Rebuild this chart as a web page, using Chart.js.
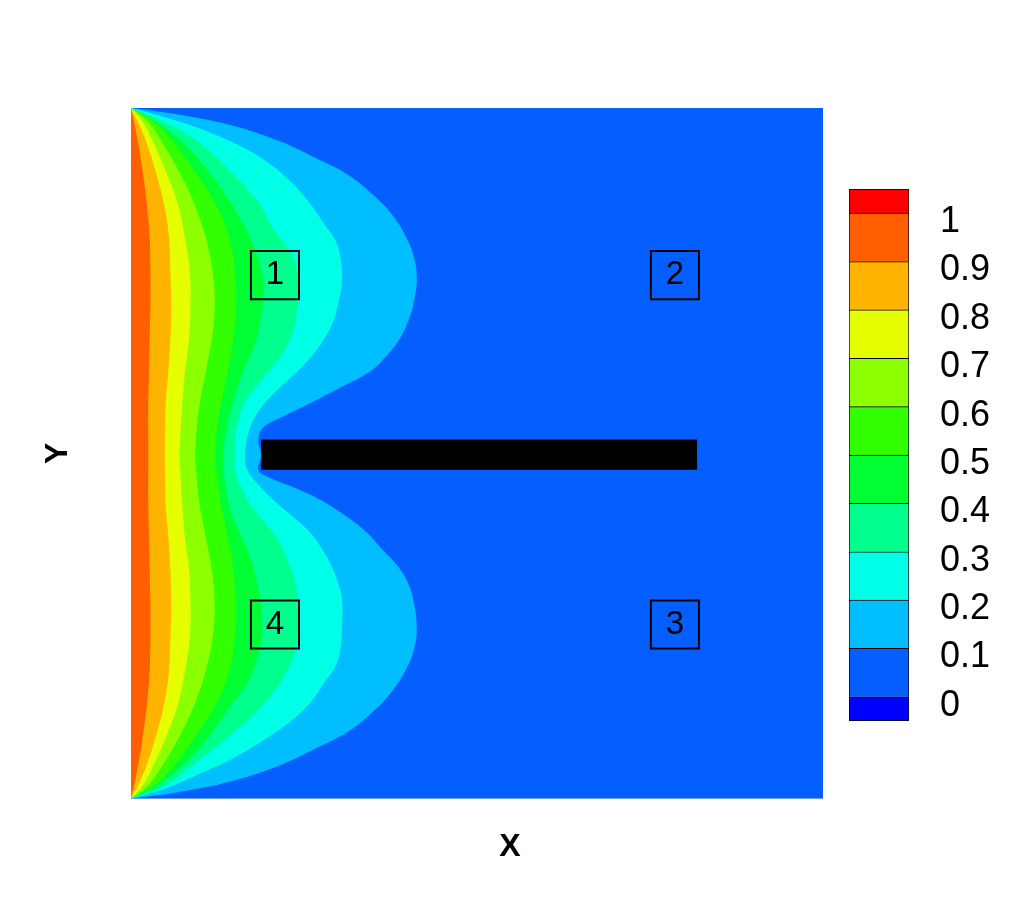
<!DOCTYPE html>
<html>
<head>
<meta charset="utf-8">
<script src="https://cdn.jsdelivr.net/npm/chart.js"></script>
<style>
  body { margin: 0; background: #fff; }
  #wrap { position: relative; width: 1012px; height: 900px; }
  #myChart { position: absolute; left: 0; top: 0; }
  #colorBar { position: absolute; left: 830px; top: 150px; }
</style>
</head>
<body>
<div id="wrap">
  <canvas id="myChart" width="1012" height="900"></canvas>
  <canvas id="colorBar" width="182" height="620"></canvas>
</div>
<script>
// colour bands, bottom to top
const levelEdges = [-0.05, 0, 0.1, 0.2, 0.3, 0.4, 0.5, 0.6, 0.7, 0.8, 0.9, 1.0, 1.05];
const levelColors = ['#0000ff', '#055eff', '#00beff', '#00ffe6', '#00ff8c', '#00ff32',
  '#32ff00', '#8cff00', '#e6ff00', '#ffb400', '#ff5f00', '#ff0000'];
const tickValues = [0, 0.1, 0.2, 0.3, 0.4, 0.5, 0.6, 0.7, 0.8, 0.9, 1];
const tickLabels = ['0', '0.1', '0.2', '0.3', '0.4', '0.5', '0.6', '0.7', '0.8', '0.9', '1'];

// contour lines (x right from the hot wall, y up)
const x01 = [0, 0.072, 0.145, 0.217, 0.264, 0.314, 0.350, 0.377, 0.396, 0.408, 0.413, 0.408, 0.400, 0.389, 0.371,
  0.345, 0.302, 0.254, 0.215, 0.191, 0.184, 0.188, 0.184, 0.197, 0.244, 0.273, 0.312, 0.341, 0.364, 0.386,
  0.400, 0.408, 0.413, 0.408, 0.396, 0.377, 0.350, 0.314, 0.264, 0.217, 0.145, 0.072, 0];
const y01 = [1, 0.990, 0.975, 0.951, 0.929, 0.903, 0.874, 0.846, 0.816, 0.787, 0.754, 0.715, 0.690, 0.667, 0.643,
  0.618, 0.595, 0.570, 0.551, 0.537, 0.520, 0.498, 0.476, 0.466, 0.447, 0.433, 0.408, 0.385, 0.360, 0.336,
  0.313, 0.288, 0.246, 0.213, 0.184, 0.155, 0.126, 0.097, 0.071, 0.049, 0.025, 0.010, 0];

const x02 = [0, 0.048, 0.097, 0.145, 0.192, 0.231, 0.260, 0.280, 0.295, 0.302, 0.305, 0.299, 0.292, 0.280, 0.263,
  0.240, 0.215, 0.191, 0.176, 0.168, 0.165, 0.168, 0.182, 0.205, 0.234, 0.259, 0.277, 0.290, 0.299, 0.305,
  0.305, 0.302, 0.295, 0.280, 0.260, 0.231, 0.192, 0.145, 0.097, 0.048, 0];
const y02 = [1, 0.987, 0.971, 0.951, 0.925, 0.893, 0.860, 0.831, 0.809, 0.787, 0.751, 0.715, 0.690, 0.667, 0.643,
  0.618, 0.595, 0.570, 0.546, 0.522, 0.496, 0.476, 0.457, 0.433, 0.408, 0.385, 0.360, 0.336, 0.313, 0.288,
  0.249, 0.213, 0.191, 0.169, 0.140, 0.112, 0.085, 0.057, 0.035, 0.014, 0];

const x03 = [0, 0.048, 0.097, 0.145, 0.184, 0.202, 0.215, 0.233, 0.240, 0.241, 0.237, 0.230, 0.218, 0.198, 0.179,
  0.162, 0.155, 0.150, 0.150, 0.150, 0.168, 0.186, 0.205, 0.220, 0.237, 0.241, 0.237, 0.220, 0.202, 0.180,
  0.145, 0.097, 0.048, 0];
const y03 = [1, 0.980, 0.951, 0.907, 0.863, 0.831, 0.812, 0.787, 0.763, 0.725, 0.690, 0.667, 0.643, 0.618, 0.595,
  0.570, 0.546, 0.522, 0.496, 0.476, 0.433, 0.408, 0.385, 0.360, 0.313, 0.263, 0.216, 0.175, 0.150, 0.125,
  0.093, 0.055, 0.018, 0];

const x04 = [0, 0.048, 0.097, 0.146, 0.172, 0.189, 0.191, 0.186, 0.182, 0.162, 0.146, 0.136, 0.133, 0.136, 0.147,
  0.168, 0.182, 0.189, 0.186, 0.168, 0.146, 0.097, 0.048, 0];
const y04 = [1, 0.972, 0.927, 0.860, 0.812, 0.763, 0.725, 0.690, 0.667, 0.618, 0.570, 0.522, 0.496, 0.457, 0.408,
  0.360, 0.313, 0.263, 0.216, 0.168, 0.137, 0.071, 0.026, 0];

// the inner lines share one set of rows
const yInner = [1, 0.980, 0.957, 0.907, 0.860, 0.812, 0.763, 0.715, 0.667, 0.618, 0.570, 0.522, 0.496, 0.476, 0.427,
  0.379, 0.330, 0.282, 0.234, 0.185, 0.137, 0.090, 0.041, 0.019, 0];
const x05 = [0, 0.034, 0.056, 0.093, 0.123, 0.142, 0.150, 0.152, 0.148, 0.140, 0.130, 0.123, 0.122, 0.123, 0.130,
  0.140, 0.148, 0.152, 0.150, 0.142, 0.123, 0.093, 0.056, 0.034, 0];
const x06 = [0, 0.025, 0.041, 0.070, 0.092, 0.108, 0.118, 0.121, 0.117, 0.108, 0.099, 0.094, 0.093, 0.094, 0.099,
  0.108, 0.117, 0.121, 0.118, 0.108, 0.092, 0.070, 0.041, 0.025, 0];
const x07 = [0, 0.017, 0.029, 0.051, 0.068, 0.078, 0.085, 0.086, 0.084, 0.078, 0.074, 0.071, 0.070, 0.071, 0.074,
  0.078, 0.084, 0.086, 0.085, 0.078, 0.068, 0.051, 0.029, 0.017, 0];
const x08 = [0, 0.010, 0.020, 0.036, 0.048, 0.055, 0.057, 0.058, 0.057, 0.054, 0.050, 0.049, 0.049, 0.049, 0.050,
  0.054, 0.057, 0.058, 0.057, 0.055, 0.048, 0.036, 0.020, 0.010, 0];

const x09 = [0, 0.009, 0.017, 0.023, 0.027, 0.028, 0.028, 0.027, 0.026, 0.025, 0.025, 0.025, 0.025, 0.025, 0.026,
  0.027, 0.028, 0.028, 0.027, 0.023, 0.017, 0.009, 0];
const y09 = [1, 0.957, 0.907, 0.860, 0.812, 0.763, 0.715, 0.667, 0.618, 0.570, 0.522, 0.496, 0.476, 0.427, 0.379,
  0.330, 0.282, 0.234, 0.185, 0.137, 0.090, 0.041, 0];

// the plate
const barX = [0.188, 0.818, 0.818, 0.188];
const barY = [0.476, 0.476, 0.520, 0.520];

// probe boxes
const probeX = [0.208, 0.786, 0.786, 0.208];
const probeY = [0.758, 0.758, 0.252, 0.252];
const probeLabels = ['1', '2', '3', '4'];

function toPoints(xs, ys) {
  return xs.map((x, i) => ({x: x, y: ys[i]}));
}

function contourSet(xs, ys, color) {
  return {
    data: toPoints(xs, ys),
    backgroundColor: color,
    borderWidth: 0,
    pointRadius: 0,
    tension: 0.4,
    fill: 'shape'
  };
}

const plotBackground = {
  id: 'plotBackground',
  beforeDraw(chart) {
    const {ctx, chartArea} = chart;
    ctx.save();
    ctx.fillStyle = levelColors[1];
    ctx.fillRect(chartArea.left, chartArea.top, chartArea.right - chartArea.left, chartArea.bottom - chartArea.top);
    ctx.restore();
  }
};

const probeText = {
  id: 'probeText',
  afterDatasetsDraw(chart) {
    const meta = chart.getDatasetMeta(0);
    const ctx = chart.ctx;
    ctx.save();
    ctx.font = '33px "Liberation Sans", Arial, sans-serif';
    ctx.fillStyle = '#000';
    ctx.textAlign = 'center';
    ctx.textBaseline = 'middle';
    meta.data.forEach((pt, i) => ctx.fillText(probeLabels[i], pt.x, pt.y));
    ctx.restore();
  }
};

const titleFont = {family: 'Liberation Sans', size: 32, weight: 'bold'};

new Chart(document.getElementById('myChart'), {
  type: 'line',
  data: {
    datasets: [
      {
        data: toPoints(probeX, probeY),
        showLine: false,
        pointStyle: 'rect',
        pointRadius: 34,
        pointBorderWidth: 2,
        pointBorderColor: '#000',
        pointBackgroundColor: 'rgba(0,0,0,0)'
      },
      {
        data: toPoints(barX, barY),
        backgroundColor: '#000',
        borderWidth: 0,
        pointRadius: 0,
        tension: 0,
        fill: 'shape'
      },
      contourSet(x09, y09, levelColors[10]),
      contourSet(x08, yInner, levelColors[9]),
      contourSet(x07, yInner, levelColors[8]),
      contourSet(x06, yInner, levelColors[7]),
      contourSet(x05, yInner, levelColors[6]),
      contourSet(x04, y04, levelColors[5]),
      contourSet(x03, y03, levelColors[4]),
      contourSet(x02, y02, levelColors[3]),
      contourSet(x01, y01, levelColors[2])
    ]
  },
  options: {
    responsive: false,
    animation: false,
    events: [],
    layout: {
      padding: {left: 8, top: 108, right: 0, bottom: 0}
    },
    plugins: {
      legend: {display: false},
      tooltip: {enabled: false},
      title: {
        display: true,
        text: 'X',
        position: 'bottom',
        color: '#000',
        font: titleFont,
        padding: {top: 29, bottom: 34}
      }
    },
    scales: {
      x: {type: 'linear', min: 0, max: 1, display: false},
      y: {
        type: 'linear',
        min: 0,
        max: 1,
        grid: {display: false},
        border: {display: false},
        ticks: {display: false},
        title: {display: true, text: 'Y', color: '#000', font: titleFont, padding: {top: 31, bottom: 0}},
        afterFit: function(scale) { scale.width = 123; }
      },
      yr: {
        type: 'linear',
        position: 'right',
        grid: {display: false},
        border: {display: false},
        ticks: {display: false},
        afterFit: function(scale) { scale.width = 189; }
      }
    }
  },
  plugins: [plotBackground, probeText]
});

new Chart(document.getElementById('colorBar'), {
  type: 'bar',
  data: {
    labels: [''],
    datasets: levelColors.map((color, i) => ({
      data: [[levelEdges[i], levelEdges[i + 1]]],
      backgroundColor: color,
      borderColor: '#000',
      borderWidth: i === 0 ? 1 : {top: 1, left: 1, right: 1, bottom: 0},
      borderSkipped: false,
      grouped: false,
      barPercentage: 1,
      categoryPercentage: 1
    }))
  },
  options: {
    responsive: false,
    animation: false,
    events: [],
    layout: {
      padding: {left: 19, top: 39, right: 0, bottom: 49}
    },
    plugins: {
      legend: {display: false},
      tooltip: {enabled: false}
    },
    scales: {
      x: {display: false},
      y: {
        position: 'right',
        min: -0.05,
        max: 1.05,
        grid: {display: false, drawTicks: false},
        border: {display: false},
        afterBuildTicks: function(scale) {
          scale.ticks = tickValues.map(v => ({value: v}));
        },
        ticks: {
          color: '#000',
          padding: 31,
          labelOffset: 9,
          font: {family: 'Liberation Sans', size: 36},
          callback: function(value, index) { return tickLabels[index]; }
        },
        afterFit: function(scale) {
          scale.width = 103;
          scale.paddingTop = 0;
          scale.paddingBottom = 0;
        }
      }
    }
  }
});
</script>
</body>
</html>
